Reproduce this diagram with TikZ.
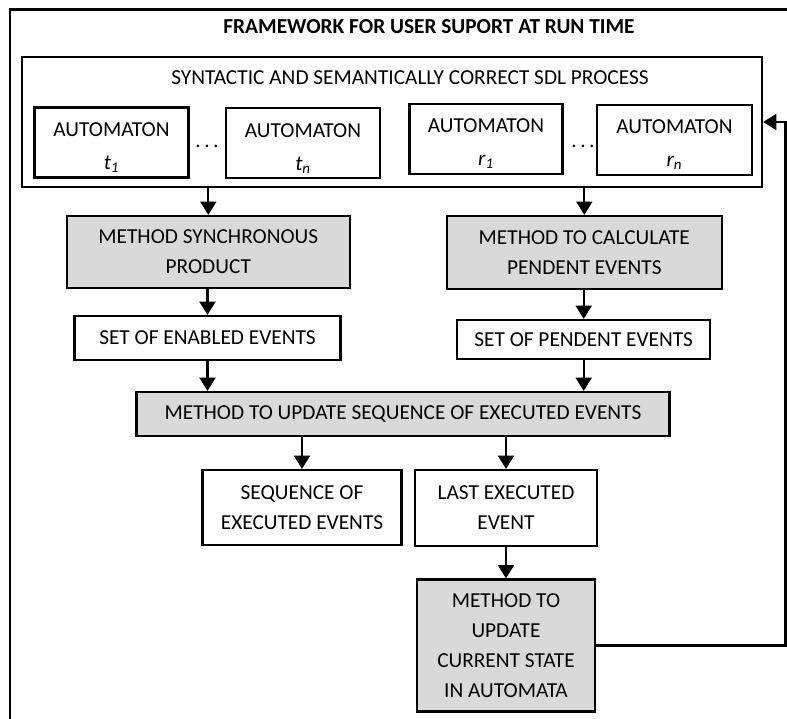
\documentclass[tikz,border=0pt]{standalone}
\usepackage{fontspec}
\setmainfont{Carlito}
\usetikzlibrary{arrows.meta}
\definecolor{boxgray}{HTML}{D9D9D9}
\begin{document}
\begin{tikzpicture}[x=0.75pt,y=-0.75pt,
  txt/.style={font=\fontsize{16}{22.5}\selectfont, align=center, inner sep=0pt},
  autotxt/.style={txt, font=\fontsize{16}{24.75}\selectfont},
  box/.style={txt, draw, line width=1.7pt},
  gbox/.style={box, fill=boxgray},
  wh/.style 2 args={minimum width=#1*0.75pt, minimum height=#2*0.75pt},
  arr/.style={line width=1.7pt, -{Triangle[length=10pt,width=12pt]}},
]
\useasboundingbox (0,0) rectangle (787,718);
\clip (0,0) rectangle (787,718);

% outer frame, running off the page on the right and at the bottom
\draw[line width=1.7pt] (10,9.5) rectangle (830,760);
\node[txt, font=\bfseries\fontsize{16}{22.5}\selectfont] (title) at (429,27)
  {FRAMEWORK FOR USER SUPORT AT RUN TIME};

% SDL process with its automata
\node[box, wh={740}{130}] (sdl) at (392,122) {};
\node[txt] (sdltitle) at (410,78) {SYNTACTIC AND SEMANTICALLY CORRECT SDL PROCESS};
\node[box, wh={154}{70}] (t1) at (111.5,142.5) {};
\node[box, wh={154}{70}] (tn) at (303,143) {};
\node[box, wh={153}{70}] (r1) at (486,139) {};
\node[box, wh={155}{70}] (rn) at (674.5,140) {};
\node[autotxt] (t1txt) at ([yshift=-4pt]t1.center) {AUTOMATON\\{\itshape t\textsubscript{1}}};
\node[autotxt] (tntxt) at ([yshift=-4pt]tn.center) {AUTOMATON\\{\itshape t\textsubscript{n}}};
\node[autotxt] (r1txt) at ([yshift=-3.5pt]r1.center) {AUTOMATON\\{\itshape r\textsubscript{1}}};
\node[autotxt] (rntxt) at ([yshift=-3.5pt]rn.center) {AUTOMATON\\{\itshape r\textsubscript{n}}};
\node[txt, anchor=base] (dots1) at (207,147) {.\,.\,.};
\node[txt, anchor=base] (dots2) at (583,147) {.\,.\,.};

% methods and their results
\node[gbox, wh={283}{72}] (mss) at (208.3,252) {METHOD SYNCHRONOUS\\PRODUCT};
\node[gbox, wh={275}{73}] (mcp) at (584.3,252.5) {METHOD TO CALCULATE\\PENDENT EVENTS};
\node[box, wh={266}{44}] (sen) at (207.5,338) {SET OF ENABLED EVENTS};
\node[box, wh={253}{39}] (spe) at (583.7,339.5) {SET OF PENDENT EVENTS};
\node[gbox, wh={533}{44}] (upd) at (403,414) {METHOD TO UPDATE SEQUENCE OF EXECUTED EVENTS};
\node[box, wh={199}{75}] (seq) at (302,507.5) {SEQUENCE OF\\EXECUTED EVENTS};
\node[box, wh={182}{76}] (last) at (506,508) {LAST EXECUTED\\EVENT};
\node[gbox, wh={178}{132}] (cur) at (506,645.5)
  {METHOD TO\\UPDATE\\CURRENT STATE\\IN AUTOMATA};
\coordinate (fbx) at (785.5,0);

% connectors
\draw[arr] (mss.north |- sdl.south) -- (mss.north);
\draw[arr] (mcp.north |- sdl.south) -- (mcp.north);
\draw[arr] (sen.north |- mss.south) -- (sen.north);
\draw[arr] (spe.north |- mcp.south) -- (spe.north);
\draw[arr] (sen.south) -- (sen.south |- upd.north);
\draw[arr] (spe.south) -- (spe.south |- upd.north);
\draw[arr] (seq.north |- upd.south) -- (seq.north);
\draw[arr] (last.north |- upd.south) -- (last.north);
\draw[arr] (last.south) -- (cur.north);
\draw[arr] (cur.east) -- (cur.east -| fbx) |- (sdl.east);
\end{tikzpicture}
\end{document}
